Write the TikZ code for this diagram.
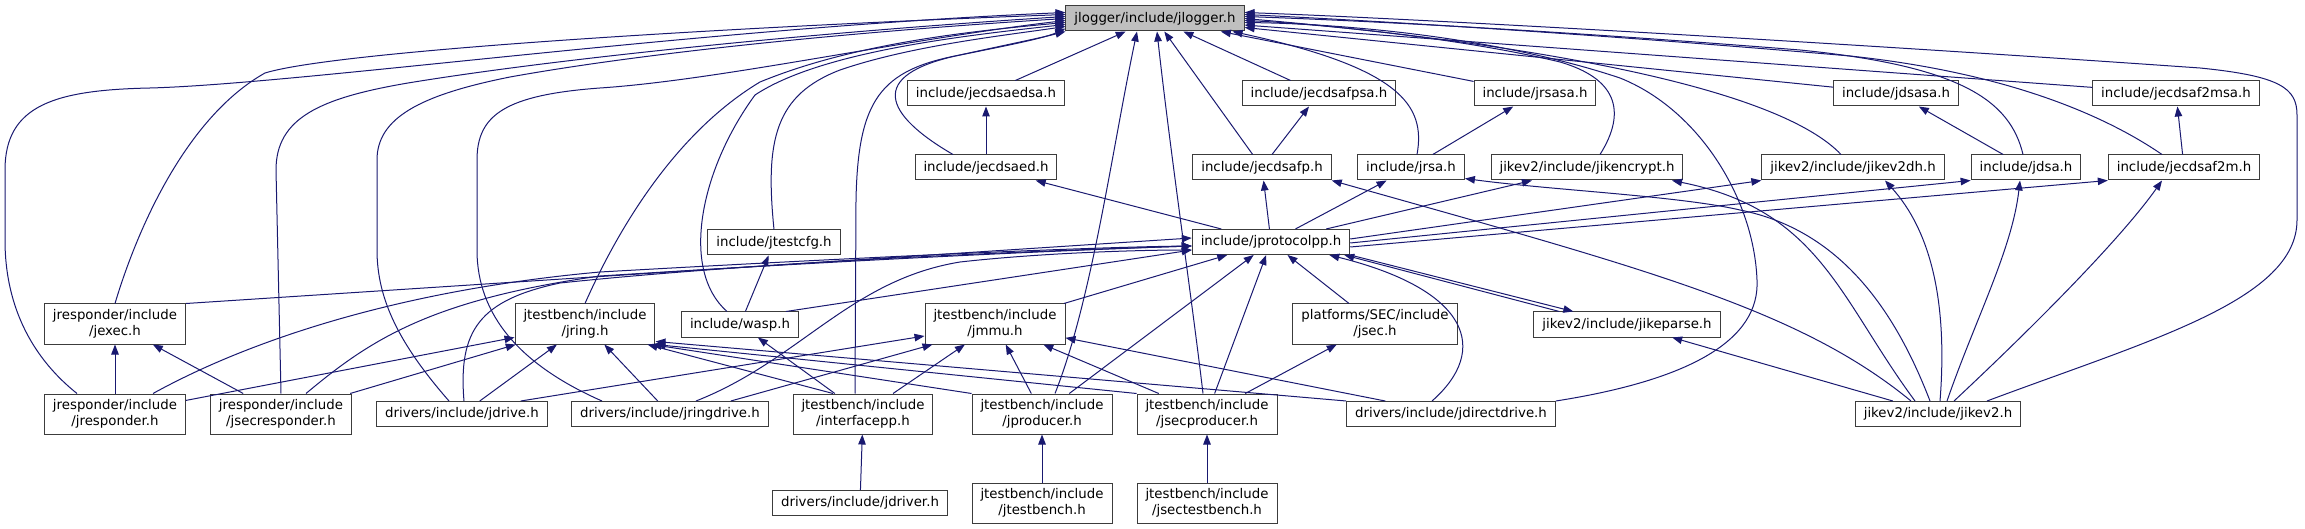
\documentclass[tikz,border=0pt]{standalone}
\usepackage{fontspec}
\setmainfont{DejaVu Sans}
\usetikzlibrary{arrows.meta}
\definecolor{edgeblue}{HTML}{191970}
\definecolor{rootgray}{HTML}{BFBFBF}
\definecolor{boxline}{HTML}{3C3C3C}
\tikzstyle{hdr} = [rectangle, draw=boxline, line width=1pt, fill=white, text centered,
    align=center, minimum height=25pt, inner xsep=8.5pt, inner ysep=2pt,
    font=\fontsize{13.33}{15.5}\selectfont]
\tikzstyle{root} = [hdr, fill=rootgray]
\tikzstyle{twoline} = [hdr, minimum height=40pt]
\tikzstyle{dep} = [draw=edgeblue, line width=1pt, ->, >={Triangle[length=10pt,width=7.5pt]}]

\begin{document}
\begin{tikzpicture}[x=1pt, y=-1pt]
\useasboundingbox (0,0) rectangle (2305,529);
\node[root] (jlogger) at (1155,18.5) {jlogger/include/jlogger.h};
\node[hdr] (ecedsa) at (986,93.5) {include/jecdsaedsa.h};
\node[hdr] (ecfpsa) at (1319,93.5) {include/jecdsafpsa.h};
\node[hdr] (rsasa) at (1535,93.5) {include/jrsasa.h};
\node[hdr] (dsasa) at (1896,93.5) {include/jdsasa.h};
\node[hdr] (ecf2msa) at (2176,93.5) {include/jecdsaf2msa.h};
\node[hdr] (ecdsaed) at (986,167.5) {include/jecdsaed.h};
\node[hdr] (ecfp) at (1262,167.5) {include/jecdsafp.h};
\node[hdr] (rsa) at (1411,167.5) {include/jrsa.h};
\node[hdr] (ikencrypt) at (1587,167.5) {jikev2/include/jikencrypt.h};
\node[hdr] (ikedh) at (1853,167.5) {jikev2/include/jikev2dh.h};
\node[hdr] (dsa) at (2026,167.5) {include/jdsa.h};
\node[hdr] (ecf2m) at (2184,167.5) {include/jecdsaf2m.h};
\node[hdr] (testcfg) at (774,242.5) {include/jtestcfg.h};
\node[hdr] (protocolpp) at (1271,242) {include/jprotocolpp.h};
\node[twoline] (exec) at (115,324) {jresponder/include\\/jexec.h};
\node[twoline] (ring) at (585,324) {jtestbench/include\\/jring.h};
\node[hdr] (wasp) at (740,324.5) {include/wasp.h};
\node[twoline] (mmu) at (995,324) {jtestbench/include\\/jmmu.h};
\node[twoline] (sec) at (1375,324) {platforms/SEC/include\\/jsec.h};
\node[hdr] (ikeparse) at (1627,324.5) {jikev2/include/jikeparse.h};
\node[twoline] (responder) at (115,414) {jresponder/include\\/jresponder.h};
\node[twoline] (secresponder) at (281,414) {jresponder/include\\/jsecresponder.h};
\node[hdr] (drive) at (462,414) {drivers/include/jdrive.h};
\node[hdr] (ringdrive) at (670,414) {drivers/include/jringdrive.h};
\node[twoline] (interfacepp) at (863,414) {jtestbench/include\\/interfacepp.h};
\node[twoline] (producer) at (1042,414) {jtestbench/include\\/jproducer.h};
\node[twoline] (secproducer) at (1207,414) {jtestbench/include\\/jsecproducer.h};
\node[hdr] (directdrive) at (1451,414) {drivers/include/jdirectdrive.h};
\node[hdr] (ikev2) at (1938,414) {jikev2/include/jikev2.h};
\node[hdr] (driver) at (860,503) {drivers/include/jdriver.h};
\node[twoline] (testbench) at (1042,503) {jtestbench/include\\/jtestbench.h};
\node[twoline] (sectestbench) at (1207,503) {jtestbench/include\\/jsectestbench.h};

\draw[dep] ([xshift=-38pt]responder.north) .. controls (35,360) and (5,310) .. (5,240) -- (5,170) .. controls (5,105) and (55,90) .. (150,88) .. controls (300,84) and (700,28) .. ([yshift=6pt]jlogger.west);
\draw[dep] (exec.north) .. controls (140,220) and (190,115) .. (265,73) .. controls (340,50) and (750,26) .. ([yshift=4pt]jlogger.west);
\draw[dep] (secresponder.north) -- (276,170) .. controls (276,118) and (320,98) .. (408,83) .. controls (560,58) and (820,32) .. ([yshift=2pt]jlogger.west);
\draw[dep] ([xshift=-13pt]drive.north) .. controls (400,345) and (377,300) .. (377,250) -- (377,160) .. controls (377,118) and (420,95) .. (510,77) .. controls (660,50) and (880,30) .. (jlogger.west);
\draw[dep] ([xshift=-68pt]ringdrive.north) .. controls (520,365) and (477,315) .. (477,250) -- (477,160) .. controls (477,115) and (505,95) .. (600,88) .. controls (720,80) and (900,40) .. ([yshift=-2pt]jlogger.west);
\draw[dep] (ring.north) .. controls (622,220) and (680,130) .. (760,82) .. controls (850,45) and (960,32) .. ([yshift=-4pt]jlogger.west);
\draw[dep] ([xshift=-13pt]wasp.north) .. controls (680,270) and (700,170) .. (755,95) .. controls (820,52) and (960,36) .. ([yshift=-6pt]jlogger.west);
\draw[dep] (testcfg.north) .. controls (765,140) and (775,95) .. (840,70) .. controls (910,46) and (1000,36) .. ([yshift=-8pt]jlogger.west);
\draw[dep] ([xshift=-8pt]interfacepp.north) -- (856,200) .. controls (858,100) and (880,70) .. (960,55) .. controls (1010,45) and (1045,38) .. ([yshift=-10pt]jlogger.west);
\draw[dep] ([xshift=-33pt]ecdsaed.north) .. controls (885,115) and (865,75) .. (960,55) .. controls (1010,44) and (1040,38) .. (jlogger.south west);
\draw[dep] (ecedsa) -- (jlogger);
\draw[dep] ([xshift=13pt]producer.north) .. controls (1092,300) and (1112,150) .. ([xshift=-18pt]jlogger.south);
\draw[dep] ([xshift=-4pt]secproducer.north) .. controls (1192,300) and (1170,150) .. ([xshift=2pt]jlogger.south);
\draw[dep] (ecfpsa) -- (jlogger);
\draw[dep] (ecfp) -- (jlogger);
\draw[dep] (rsasa) -- (jlogger);
\draw[dep] ([xshift=6pt]rsa.north) .. controls (1426,105) and (1400,68) .. ([xshift=-12pt]jlogger.south east);
\draw[dep] ([xshift=13pt]ikencrypt.north) .. controls (1628,110) and (1615,78) .. (1560,62) .. controls (1460,38) and (1320,24) .. ([yshift=-2pt]jlogger.east);
\draw[dep] ([xshift=-12pt]ikedh.north) .. controls (1780,90) and (1550,45) .. (jlogger.east);
\draw[dep] (directdrive.north east) .. controls (1690,380) and (1760,340) .. (1757,280) .. controls (1754,200) and (1700,110) .. (1620,78) .. controls (1500,38) and (1350,24) .. ([yshift=-4pt]jlogger.east);
\draw[dep] (dsasa) -- (jlogger);
\draw[dep] ([xshift=-3pt]dsa.north) .. controls (2010,100) and (1960,66) .. (1800,50) .. controls (1600,34) and (1400,22) .. ([yshift=2pt]jlogger.east);
\draw[dep] (ecf2msa) -- (jlogger);
\draw[dep] ([xshift=-22pt]ecf2m.north) .. controls (2100,112) and (2000,72) .. (1850,56) .. controls (1620,36) and (1400,22) .. ([yshift=4pt]jlogger.east);
\draw[dep] ([xshift=49pt]ikev2.north) .. controls (2150,340) and (2297,300) .. (2297,220) -- (2297,115) .. controls (2297,88) and (2280,76) .. (2200,68) .. controls (1800,40) and (1400,18) .. ([yshift=6pt]jlogger.east);

\draw[dep] (ecdsaed) -- (ecedsa);
\draw[dep] (ecfp) -- (ecfpsa);
\draw[dep] (rsa) -- (rsasa);
\draw[dep] (dsa) -- (dsasa);
\draw[dep] (ecf2m) -- (ecf2msa);

\draw[dep] (protocolpp) -- (ecdsaed);
\draw[dep] (protocolpp) -- (ecfp);
\draw[dep] (protocolpp) -- (rsa);
\draw[dep] (protocolpp) -- (ikencrypt);
\draw[dep] ([yshift=3pt]protocolpp.east) -- (ikedh.south west);
\draw[dep] ([yshift=-1pt]protocolpp.east) -- (dsa.south west);
\draw[dep] ([yshift=-5pt]protocolpp.east) -- (ecf2m.south west);

\draw[dep] (exec.north east) -- ([yshift=4pt]protocolpp.west);
\draw[dep] ([xshift=38pt]responder.north) .. controls (250,340) and (400,290) .. (600,272) .. controls (900,255) and (1100,247) .. ([yshift=-4pt]protocolpp.west);
\draw[dep] ([xshift=25pt]secresponder.north) .. controls (370,340) and (430,300) .. (600,276) .. controls (900,257) and (1100,249) .. ([yshift=-4pt]protocolpp.west);
\draw[dep] ([xshift=2pt]drive.north) .. controls (458,330) and (480,300) .. (560,283) .. controls (800,258) and (1100,249) .. ([yshift=-4pt]protocolpp.west);
\draw[dep] ([xshift=26pt]ringdrive.north) .. controls (800,360) and (850,280) .. (960,262) .. controls (1050,252) and (1150,250) .. ([yshift=-8pt]protocolpp.west);
\draw[dep] ([xshift=-13pt]wasp.north east) -- ([yshift=-8pt]protocolpp.west);
\draw[dep] (mmu) -- (protocolpp);
\draw[dep] (producer) -- (protocolpp);
\draw[dep] (secproducer) -- (protocolpp);
\draw[dep] (sec) -- (protocolpp);
\draw[dep] ([xshift=-19pt]directdrive.north) .. controls (1490,350) and (1470,290) .. ([xshift=-21pt]protocolpp.south east);
\draw[dep] (protocolpp.south east) -- ([xshift=40pt]ikeparse.north west);
\draw[dep] ([xshift=26pt]ikeparse.north west) -- ([xshift=-6pt]protocolpp.south east);

\draw[dep] (responder) -- (ring);
\draw[dep] (secresponder) -- (ring);
\draw[dep] (drive) -- (ring);
\draw[dep] (ringdrive) -- (ring);
\draw[dep] ([xshift=-30pt]interfacepp.north) -- ([xshift=-8pt]ring.south east);
\draw[dep] (producer.north west) -- ([xshift=-4pt]ring.south east);
\draw[dep] (secproducer.north west) -- (ring.south east);
\draw[dep] (directdrive.north west) -- ([yshift=3pt]ring.south east);

\draw[dep] ([xshift=-27pt]drive.north east) -- ([yshift=-12pt]mmu.west);
\draw[dep] ([xshift=-38pt]ringdrive.north east) -- ([xshift=8pt]mmu.south west);
\draw[dep] (interfacepp) -- (mmu);
\draw[dep] (producer) -- (mmu);
\draw[dep] (secproducer) -- (mmu);
\draw[dep] (directdrive) -- (mmu);

\draw[dep] (responder) -- (exec);
\draw[dep] (secresponder) -- (exec);
\draw[dep] (wasp) -- (testcfg);
\draw[dep] (interfacepp) -- (wasp);
\draw[dep] (secproducer) -- (sec);
\draw[dep] (testbench) -- (producer);
\draw[dep] (sectestbench) -- (secproducer);
\draw[dep] (driver) -- (interfacepp);

\draw[dep] (ikev2) -- (ikeparse);
\draw[dep] ([xshift=-27pt]ikev2.north) .. controls (1800,310) and (1650,270) .. (ecfp.south east);
\draw[dep] ([xshift=-23pt]ikev2.north) .. controls (1840,300) and (1820,210) .. ([xshift=85pt]ikencrypt.south);
\draw[dep] ([xshift=-8pt]ikev2.north) .. controls (1895,310) and (1840,230) .. (1740,210) .. controls (1680,196) and (1550,190) .. ([yshift=-11pt]rsa.east);
\draw[dep] ([xshift=2pt]ikev2.north) .. controls (1948,300) and (1930,230) .. ([xshift=32pt]ikedh.south);
\draw[dep] ([xshift=9pt]ikev2.north) .. controls (1975,320) and (2012,250) .. ([xshift=-6pt]dsa.south);
\draw[dep] ([xshift=16pt]ikev2.north) .. controls (2030,330) and (2120,240) .. ([xshift=-22pt]ecf2m.south);
\end{tikzpicture}
\end{document}
